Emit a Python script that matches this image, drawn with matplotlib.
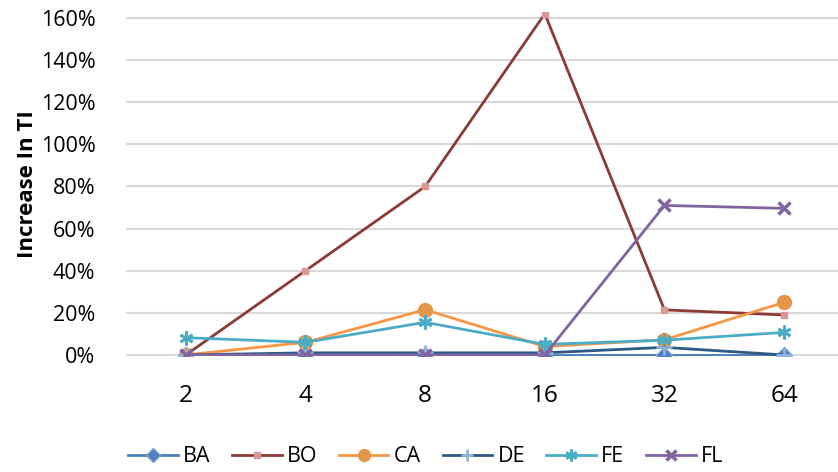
import matplotlib.pyplot as plt
from matplotlib.ticker import PercentFormatter

# sizes along the x axis
sizes = ['2', '4', '8', '16', '32', '64']

# increase in TI, percent
ba = [0, 0, 0, 0, 0, 0]
bo = [0, 40, 80, 162, 21.4, 19]
ca = [0, 6, 21.5, 4, 7.2, 25]
de = [0, 1, 1, 1, 3.6, 0]
fe = [8.2, 6, 15.5, 5, 7, 10.7]
fl = [0, 0, 0, 0, 71, 69.6]

series = [
    ('BA', ba, '#4a7ebb', dict(marker='D', ms=8, mfc='#4f81bd', mec='#7d9fcf')),
    ('BO', bo, '#8b3a36', dict(marker='s', ms=5, mfc='#d99795', mec='#d99795')),
    ('CA', ca, '#f79646', dict(marker='o', ms=10, mfc='#e3954a', mec='#e3954a')),
    ('DE', de, '#2c5a86', dict(marker='+', ms=11, mew=2, mec='#95b3d7')),
    ('FE', fe, '#4bacc6', dict(marker=(6, 2, 0), ms=10, mew=2, mec='#4bacc6')),
    ('FL', fl, '#8064a2', dict(marker='x', ms=9, mew=2.5, mec='#8064a2')),
]

plt.rcParams['font.family'] = ['Open Sans', 'DejaVu Sans']
fs = 15.5

fig = plt.figure(figsize=(8.38, 4.72), dpi=100)
ax = fig.add_axes([126 / 838, (472 - 356) / 472, (838 - 126) / 838, (356 - 18) / 472 / 160 * 163])

x = range(len(sizes))
for name, vals, color, mk in series:
    ax.plot(x, vals, color=color, lw=2, label=name, **mk)

ax.set_xlim(-0.5, 5.45)
ax.set_ylim(-0.5, 163)
ax.set_yticks(range(0, 161, 20))
ax.yaxis.set_major_formatter(PercentFormatter(decimals=0))
ax.set_xticks(list(x))
ax.set_xticklabels(sizes)
ax.tick_params(length=0)
ax.tick_params(axis='y', pad=22, labelsize=fs)
ax.tick_params(axis='x', pad=20, labelsize=17.5)
ax.grid(axis='y', color='#d9d9d9', lw=1.5)
ax.set_axisbelow(True)
for s in ax.spines.values():
    s.set_visible(False)

ax.set_ylabel('Increase In TI', fontsize=16, fontweight='bold', labelpad=2)

fig.legend(loc='center', bbox_to_anchor=(0.508, 1 - 457 / 472), ncol=6, frameon=False,
           fontsize=fs, handlelength=2.3, columnspacing=1.0, handletextpad=0.25,
           markerscale=0.85)

fig.savefig('out.png', dpi=100)
